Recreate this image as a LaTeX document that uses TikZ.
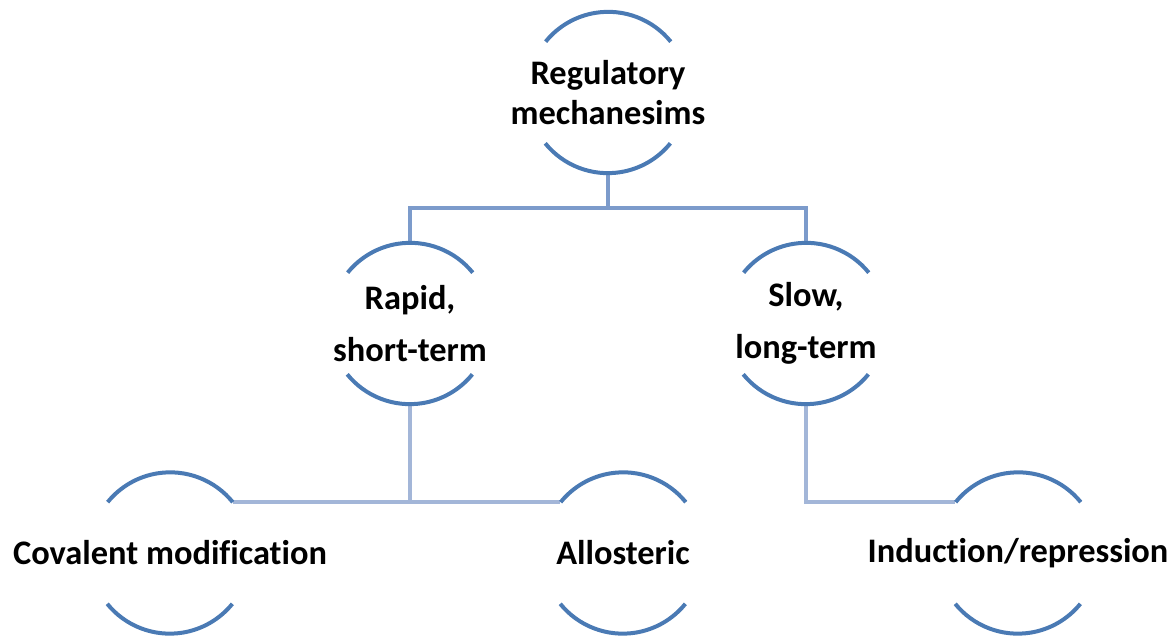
\documentclass[tikz,border=0pt]{standalone}
\usepackage{fontspec}
\setmainfont{Carlito}[Ligatures=NoCommon]
\definecolor{arcblue}{HTML}{4A7AB4}
\definecolor{connA}{HTML}{7C9BCB}
\definecolor{connB}{HTML}{A3B6D8}
\tikzset{
  ring/.style={circle, minimum size=120.75pt, inner sep=0pt, draw=none},
  lbl/.style={font=\fontsize{25.8}{30}\selectfont\bfseries, align=center, inner sep=0pt},
  lbltwo/.style={font=\fontsize{25.8}{39}\selectfont\bfseries, align=center, inner sep=0pt},
  arcline/.style={draw=arcblue, line width=3pt},
  connone/.style={draw=connA, line width=3pt},
  conntwo/.style={draw=connB, line width=3pt},
}
\newcommand{\ringarcs}[1]{%
  \draw[arcline] (#1.39) arc[start angle=39, end angle=141, radius=60.375pt];
  \draw[arcline] (#1.219) arc[start angle=219, end angle=321, radius=60.375pt];
}
\begin{document}
\begin{tikzpicture}[x=0.75pt, y=0.75pt]
\useasboundingbox (0,0) rectangle (1175,642);
% circles
\node[ring] (top) at (608,549.5) {};
\node[ring] (rapid) at (410,318.5) {};
\node[ring] (slow) at (806,318.5) {};
\node[ring] (cov) at (170,89) {};
\node[ring] (allo) at (623,89) {};
\node[ring] (ind) at (1018,89) {};
% connectors
\coordinate (bus) at (608,434);
\draw[connone] (top.south) -- (bus);
\draw[connone] (rapid.north) |- (bus) -| (slow.north);
\draw[conntwo] (rapid.south) |- (allo.141);
\draw[conntwo] (cov.39) -- (cov.39 -| rapid.south);
\draw[conntwo] (slow.south) |- (ind.141);
% arcs
\ringarcs{top}
\ringarcs{rapid}
\ringarcs{slow}
\ringarcs{cov}
\ringarcs{allo}
\ringarcs{ind}
% labels
\node[lbl] (toptxt) at (top) {Regulatory\\mechanesims};
\node[lbltwo] (rapidtxt) at (rapid) {Rapid,\\short-term};
\node[lbltwo] (slowtxt) at (slow) {Slow,\\long-term};
\node[lbl] (covtxt) at (cov) {Covalent modification};
\node[lbl] (allotxt) at (allo) {Allosteric};
\node[lbl] (indtxt) at (ind) {Induction/repression};
\end{tikzpicture}
\end{document}
